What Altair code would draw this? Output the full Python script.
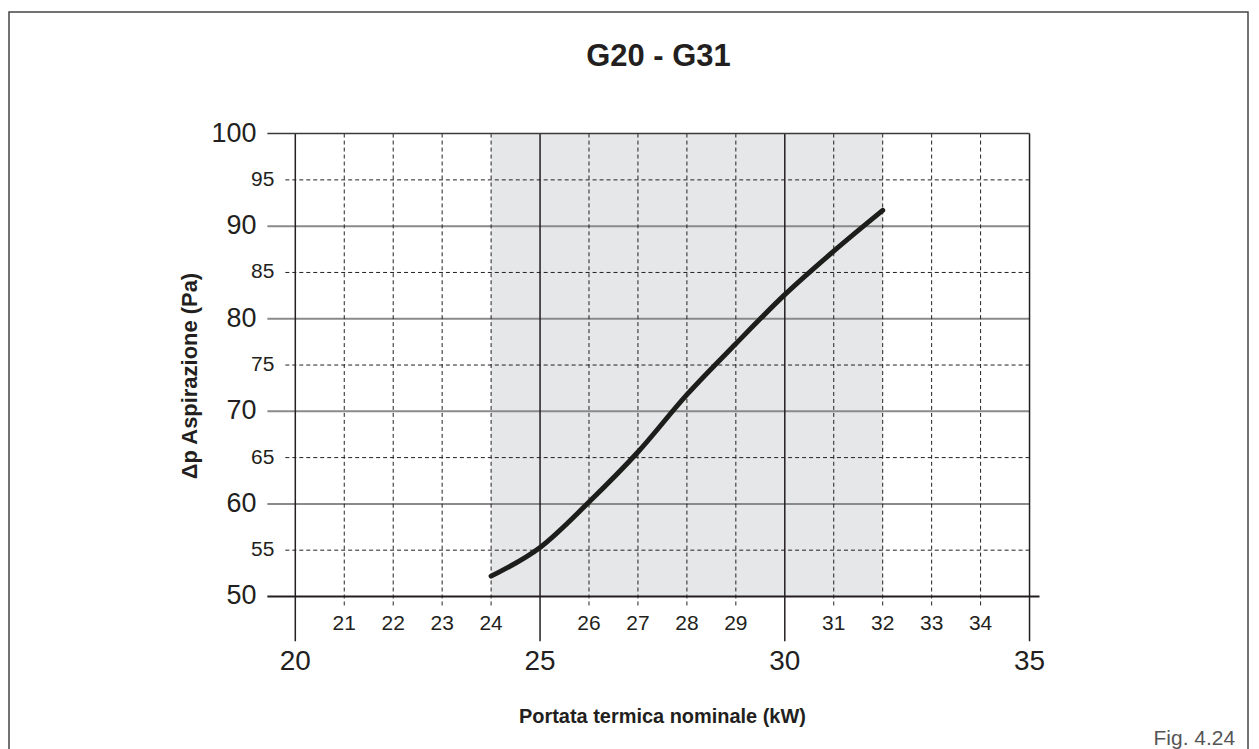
import altair as alt
import pandas as pd

# ---- data ----
title_text = "G20 - G31"
x_title = "Portata termica nominale (kW)"
y_title = "Δp Aspirazione (Pa)"
fig_label = "Fig. 4.24"

x_domain = [20, 35]
y_domain = [50, 100]

x_major = [20, 25, 30, 35]
x_minor = [21, 22, 23, 24, 26, 27, 28, 29, 31, 32, 33, 34]
y_major = [50, 60, 70, 80, 90, 100]
y_minor = [55, 65, 75, 85, 95]
y_grey = [60, 70, 80, 90]

band_start = [24]
band_end = [32]

curve_x = [24, 25, 26, 27, 28, 29, 30, 31, 32]
curve_y = [52.2, 55.3, 60.2, 65.6, 71.8, 77.3, 82.6, 87.3, 91.7]

# ---- styling ----
FONT = "Liberation Sans"
INK = "#231f20"
W, H = 736, 464

xs = alt.Scale(domain=x_domain, nice=False, zero=False)
ys = alt.Scale(domain=y_domain, nice=False, zero=False)

band = alt.Chart(pd.DataFrame({"a": band_start, "b": band_end, "lo": [y_domain[0]], "hi": [y_domain[1]]})).mark_rect(
    color="#e6e7e8"
).encode(
    x=alt.X("a:Q", scale=xs, axis=None),
    x2="b:Q",
    y=alt.Y("lo:Q", scale=ys, axis=None),
    y2="hi:Q",
)

vminor = alt.Chart(pd.DataFrame({"x": x_minor, "top": [y_domain[1]] * len(x_minor)})).mark_rule(
    color=INK, strokeWidth=1, strokeDash=[4, 3]
).encode(
    x=alt.X("x:Q", scale=xs, axis=None),
    y=alt.Y("top:Q", scale=ys, axis=None),
    y2=alt.value(H + 9),
)

hminor = alt.Chart(pd.DataFrame({"y": y_minor})).mark_rule(
    color=INK, strokeWidth=1, strokeDash=[4, 3]
).encode(
    y=alt.Y("y:Q", scale=ys, axis=None),
    x=alt.value(-10),
    x2=alt.value(W),
)

hgrey = alt.Chart(pd.DataFrame({"y": y_grey})).mark_rule(
    color="#8a8a8a", strokeWidth=2
).encode(
    y=alt.Y("y:Q", scale=ys, axis=None),
    x=alt.value(-28),
    x2=alt.value(W),
)

htop = alt.Chart(pd.DataFrame({"y": [y_domain[1]]})).mark_rule(
    color="#3a3a3a", strokeWidth=1.5
).encode(
    y=alt.Y("y:Q", scale=ys, axis=None),
    x=alt.value(-28),
    x2=alt.value(W),
)

hbottom = alt.Chart(pd.DataFrame({"y": [y_domain[0]]})).mark_rule(
    color=INK, strokeWidth=2
).encode(
    y=alt.Y("y:Q", scale=ys, axis=None),
    x=alt.value(-28),
    x2=alt.value(W + 10),
)

vmajor = alt.Chart(pd.DataFrame({"x": x_major, "top": [y_domain[1]] * len(x_major)})).mark_rule(
    color=INK, strokeWidth=1.5
).encode(
    x=alt.X("x:Q", scale=xs, axis=None),
    y=alt.Y("top:Q", scale=ys, axis=None),
    y2=alt.value(H + 45),
)

curve = alt.Chart(pd.DataFrame({"x": curve_x, "y": curve_y})).mark_line(
    color="#1d1d1b", strokeWidth=5, interpolate="monotone", strokeCap="round"
).encode(
    x=alt.X("x:Q", scale=xs, axis=None),
    y=alt.Y("y:Q", scale=ys, axis=None),
)

ylab_major = alt.Chart(pd.DataFrame({"y": y_major})).mark_text(
    font=FONT, fontSize=27, color=INK, align="right", baseline="middle"
).encode(
    y=alt.Y("y:Q", scale=ys, axis=None),
    x=alt.value(-39),
    text=alt.Text("y:Q"),
)

ylab_minor = alt.Chart(pd.DataFrame({"y": y_minor})).mark_text(
    font=FONT, fontSize=21, color=INK, align="right", baseline="middle"
).encode(
    y=alt.Y("y:Q", scale=ys, axis=None),
    x=alt.value(-21),
    text=alt.Text("y:Q"),
)

xlab_major = alt.Chart(pd.DataFrame({"x": x_major})).mark_text(
    font=FONT, fontSize=28, color=INK, align="center", baseline="middle"
).encode(
    x=alt.X("x:Q", scale=xs, axis=None),
    y=alt.value(H + 66),
    text=alt.Text("x:Q"),
)

xlab_minor = alt.Chart(pd.DataFrame({"x": x_minor})).mark_text(
    font=FONT, fontSize=21, color=INK, align="center", baseline="middle"
).encode(
    x=alt.X("x:Q", scale=xs, axis=None),
    y=alt.value(H + 28),
    text=alt.Text("x:Q"),
)

def label(txt, x, y, size, weight="normal", angle=0, align="center", color=INK):
    return alt.Chart(pd.DataFrame({"t": [txt]})).mark_text(
        font=FONT, fontSize=size, fontWeight=weight, angle=angle, align=align,
        baseline="middle", color=color
    ).encode(x=alt.value(x), y=alt.value(y), text="t:N")

title = label(title_text, 364, -77, 31, "bold")
xt = label(x_title, W / 2, 585, 20, "bold")
yt = label(y_title, -106, 243, 22, "bold", angle=270)
fig = label(fig_label, 942, 607, 21, align="right", color="#555555")

frame = alt.Chart(pd.DataFrame({"t": [0]})).mark_rect(
    fill=None, stroke="#444444", strokeWidth=1.5
).encode(
    x=alt.value(-287), x2=alt.value(955), y=alt.value(-122), y2=alt.value(700)
)

chart = alt.layer(
    band, hminor, hgrey, vminor, vmajor, htop, hbottom, curve,
    ylab_major, ylab_minor, xlab_major, xlab_minor, title, xt, yt, fig, frame
).properties(
    width=W, height=H,
    autosize=alt.AutoSizeParams(type="none"),
    padding={"left": 288, "top": 125, "right": 222, "bottom": 152},
    background="white",
).configure_view(stroke=None)

chart.save("out.html", embed_options={"renderer": "svg", "actions": False})
